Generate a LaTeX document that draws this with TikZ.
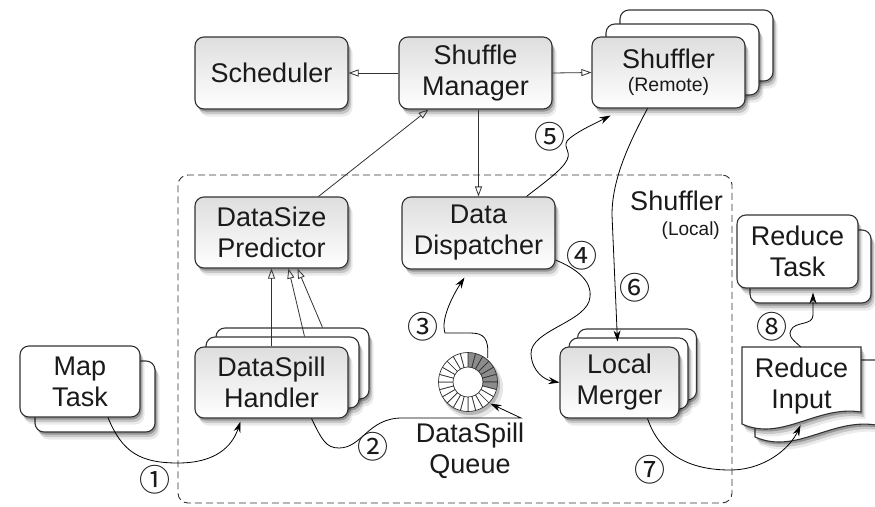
\documentclass[tikz,border=0pt]{standalone}
\usepackage{fontspec}
\setmainfont{Liberation Sans}
\newfontfamily\circfont{Noto Sans CJK SC}
\usetikzlibrary{arrows.meta,shadows,calc}
\definecolor{edge}{HTML}{333333}
\definecolor{txt}{HTML}{1A1A1A}
\definecolor{qgray}{HTML}{8C8C8C}
\tikzset{
  softshadow/.style={
    drop shadow={shadow xshift=1.5pt,shadow yshift=-2.5pt,opacity=.25,fill=black},
    drop shadow={shadow xshift=3pt,shadow yshift=-5pt,opacity=.15,fill=black},
    drop shadow={shadow xshift=4.5pt,shadow yshift=-7.5pt,opacity=.08,fill=black}},
  box/.style={draw=edge, line width=1.1pt, rounded corners=9pt, text=txt, align=center,
    font=\fontsize{27}{31}\selectfont, inner sep=0pt},
  gbox/.style={box, top color=black!13, bottom color=white, softshadow},
  wbox/.style={box, fill=white, softshadow},
  container/.style={draw=edge, line width=0.9pt, dash pattern=on 7pt off 4pt, rounded corners=10pt},
  ctl/.style={draw=edge, line width=0.8pt, -{Triangle[open,length=10pt,width=7pt]}},
  flow/.style={draw=black, line width=0.8pt, -{Stealth[length=11pt,width=7pt]}},
  num/.style={font=\circfont\fontsize{31}{31}\selectfont, text=txt, inner sep=0pt},
  lbl/.style={text=txt, font=\fontsize{27}{31}\selectfont, align=center, inner sep=0pt},
  small/.style={text=txt, font=\fontsize{19}{22}\selectfont, inner sep=0pt},
}
\begin{document}
\begin{tikzpicture}[x=1pt,y=-1pt]
\useasboundingbox (0,0) rectangle (875,506);
\fill[white] (0,0) rectangle (875,506);

\node[container, minimum width=554pt, minimum height=328pt] (local) at (455,339) {};
\node[lbl, anchor=east] (loclbl) at (723,201) {Shuffler};
\node[small, anchor=east] (locsub) at (720,231) {(Local)};

% top row
\node[gbox, minimum width=153pt, minimum height=72pt] (sched) at (271.5,73) {Scheduler};
\node[gbox, minimum width=153pt, minimum height=72pt] (mgr) at (475.5,73) {Shuffle\\Manager};
\node[wbox, minimum width=153pt, minimum height=71pt] (rem3) at (696.5,45.5) {};
\node[wbox, minimum width=153pt, minimum height=71pt] (rem2) at (682.5,59.5) {};
\node[gbox, minimum width=153pt, minimum height=71pt] (rem) at (668.5,72.5) {Shuffler\\[-8pt]{\fontsize{19.5}{22}\selectfont (Remote)}};

% middle
\node[gbox, minimum width=153pt, minimum height=71pt] (pred) at (271.5,232.5) {DataSize\\Predictor};
\node[gbox, minimum width=153pt, minimum height=72pt] (disp) at (478.5,233) {Data\\Dispatcher};
\node[wbox, minimum width=153pt, minimum height=71pt] (hand2) at (292.5,363.5) {};
\node[wbox, minimum width=153pt, minimum height=71pt] (hand1) at (282.5,372.5) {};
\node[gbox, minimum width=153pt, minimum height=71pt] (hand) at (271.5,382.5) {DataSpill\\Handler};
\node[wbox, minimum width=119pt, minimum height=71pt] (merg2) at (637,364.5) {};
\node[wbox, minimum width=119pt, minimum height=71pt] (merg1) at (628.5,373.5) {};
\node[gbox, minimum width=119pt, minimum height=71pt] (merg) at (619.5,382.5) {Local\\Merger};
\node[wbox, minimum width=120pt, minimum height=71pt] (map2) at (95,396.5) {};
\node[wbox, minimum width=120pt, minimum height=71pt] (map) at (80,381.5) {Map\\Task};
\node[wbox, minimum width=121pt, minimum height=73pt] (rtask2) at (810.5,266.5) {};
\node[wbox, minimum width=121pt, minimum height=73pt] (rtask) at (797.5,251.5) {Reduce\\Task};

% reduce input (document stack)
\path[draw=edge, line width=1.1pt, fill=white, softshadow] (755,360) -- (876,360) -- (876,425) .. controls (831,418) and (796,455) .. (755,437) -- cycle;
\path[draw=edge, line width=1.1pt, fill=white, softshadow] (742,347) -- (861,347) -- (861,412) .. controls (817,405) and (782,442) .. (742,424) -- cycle;
\node[lbl, minimum width=119pt, minimum height=78pt] (rin) at (801.5,386) {Reduce\\Input};

% queue ring
\node[circle, minimum size=62pt, inner sep=0pt] (queue) at (468,382) {};
\begin{scope}[shift={(queue.center)}, y=1pt]
  \fill[black, opacity=.2] (2,-3) circle[radius=30];
  \fill[black, opacity=.1] (4,-5.5) circle[radius=31];
  \fill[white] (0,0) circle[radius=15];
  \foreach \i in {0,...,23}{
    \pgfmathsetmacro\sa{90-15*\i}
    \pgfmathsetmacro\sb{75-15*\i}
    \ifnum\i<7 \colorlet{segc}{qgray}\else\colorlet{segc}{white}\fi
    \filldraw[fill=segc, draw=edge, line width=0.7pt] (\sa:29.5) arc[start angle=\sa, end angle=\sb, radius=29.5] -- (\sb:15) arc[start angle=\sb, end angle=\sa, radius=15] -- cycle;
  }
\end{scope}
\node[lbl] (qlbl) at (470,451) {DataSpill\\Queue};

% control connectors
\draw[ctl] (mgr.west) -- (sched.east);
\draw[ctl] (mgr.east) -- (rem.west);
\draw[ctl] ([xshift=47pt]pred.north) -- ([xshift=-47pt]mgr.south);
\draw[ctl] (mgr.south -| disp.north) -- (disp.north);
\draw[ctl] (hand.north) -- (pred.south);
\draw[ctl] ([xshift=22pt]hand1.north) -- ([xshift=17pt]pred.south);
\draw[ctl] ([xshift=30pt]hand2.north) -- ([xshift=26pt]pred.south);

% data flows
\draw[flow] ([xshift=28pt]map.south) .. controls (122,452) and (140,463) .. (178,463) .. controls (215,463) and (232,447) .. ([xshift=-31pt,yshift=-3pt]hand.south);
\draw[flow] ([xshift=40pt]hand.south) .. controls (322,440) and (326,448) .. (339,448) .. controls (362,448) and (368,418) .. (402,418) -- (521,418) -- (queue.-44);
\draw[flow] (queue.51) .. controls (489,338) and (484,333) .. (470,333) -- (445,333) .. controls (440,318) and (455,292) .. ([xshift=-14pt,yshift=-8pt]disp.south);
\draw[flow] ([yshift=-27pt]disp.east) .. controls (575,268) and (592,280) .. (590,297) .. controls (588,322) and (530,330) .. (531,354) .. controls (532,372) and (545,380) .. (merg.west);
\draw[flow] ([xshift=48pt]disp.north) .. controls (545,182) and (562,170) .. (567,160) .. controls (572,150) and (560,146) .. (570,138) .. controls (580,130) and (598,122) .. ([xshift=-58pt,yshift=-7pt]rem.south);
\draw[flow] ([xshift=-21pt]rem.south) .. controls (628,145) and (612,180) .. (612,215) -- ([xshift=-11pt,yshift=-4pt]merg1.north);
\draw[flow] ([xshift=28pt]merg.south) .. controls (660,455) and (690,470) .. (730,470) .. controls (765,470) and (790,448) .. ([xshift=-1pt]rin.south);
\draw[flow] ([xshift=-1pt]rin.north) .. controls (796,342) and (787,337) .. (791,330) .. controls (795,321) and (813,326) .. (813,315) -- ([xshift=15.5pt,yshift=-4pt]rtask.south);

% step numbers
\node[num] (n1) at (155,480) {①};
\node[num] (n2) at (373,447) {②};
\node[num] (n3) at (423,327) {③};
\node[num] (n4) at (582,256) {④};
\node[num] (n5) at (550,137) {⑤};
\node[num] (n6) at (635,288) {⑥};
\node[num] (n7) at (650,470) {⑦};
\node[num] (n8) at (772,327) {⑧};
\end{tikzpicture}
\end{document}
